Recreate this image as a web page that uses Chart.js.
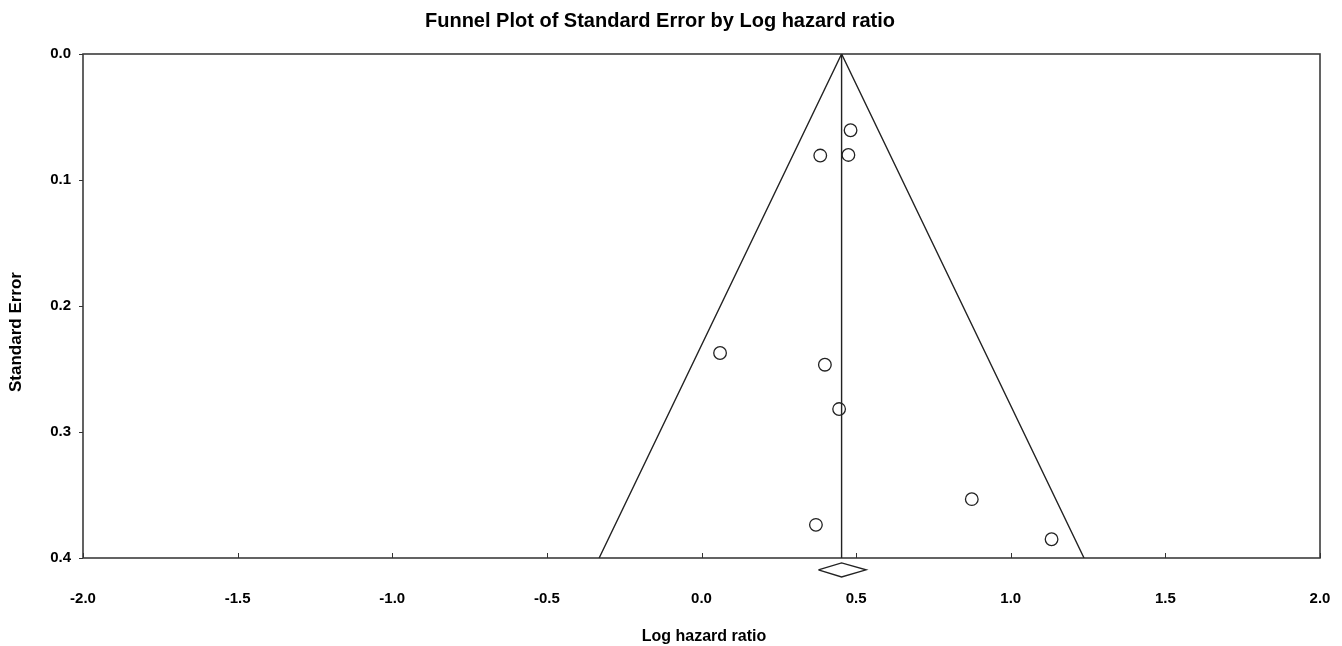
<!DOCTYPE html>
<html>
<head>
<meta charset="utf-8">
<script src="https://cdn.jsdelivr.net/npm/chart.js@4.4.1/dist/chart.umd.min.js"></script>
<style>
  html, body { margin: 0; padding: 0; background: #fff; overflow: hidden; }
  #wrap { width: 1342px; height: 646px; position: relative; }
  canvas { display: block; }
</style>
</head>
<body>
<div id="wrap"><canvas id="c"></canvas></div>
<script>
// ---- data ----
const chartTitle = "Funnel Plot of Standard Error by Log hazard ratio";
const xAxisTitle = "Log hazard ratio";
const yAxisTitle = "Standard Error";

const studyLogHR = [0.482, 0.384, 0.475, 0.060, 0.399, 0.445, 0.370, 0.874, 1.132];
const studySE    = [0.0605, 0.0806, 0.0801, 0.2373, 0.2466, 0.2818, 0.3737, 0.3533, 0.3851];

const funnelX = [-0.331, 0.453, 1.237];
const funnelY = [0.4, 0.0, 0.4];

const centerX = [0.453, 0.453];
const centerY = [0.0, 0.4];

const diamondX = [0.378, 0.453, 0.532, 0.453, 0.378];
const diamondY = [0.4094, 0.4039, 0.4094, 0.415, 0.4094];

const xTickValues = [-2.0, -1.5, -1.0, -0.5, 0.0, 0.5, 1.0, 1.5, 2.0];
const yTickValues = [0.0, 0.1, 0.2, 0.3, 0.4];

// ---- build ----
const zip = (xs, ys) => xs.map((x, i) => ({ x: x, y: ys[i] }));
const FONT = "'Liberation Sans', Arial, sans-serif";

const framePlugin = {
  id: 'frame',
  beforeDatasetsDraw(chart) {
    const { ctx, chartArea: a, scales } = chart;
    ctx.save();
    ctx.strokeStyle = '#3c3c3c';
    ctx.lineWidth = 1.6;
    ctx.strokeRect(a.left, a.top, a.right - a.left, a.bottom - a.top);
    ctx.lineWidth = 1;
    ctx.strokeStyle = '#333';
    ctx.beginPath();
    xTickValues.forEach(v => {
      const px = Math.round(scales.x.getPixelForValue(v)) + 0.5;
      ctx.moveTo(px, a.bottom);
      ctx.lineTo(px, a.bottom - 5);
    });
    yTickValues.forEach(v => {
      const py = Math.round(scales.y.getPixelForValue(v)) + 0.5;
      ctx.moveTo(a.left, py);
      ctx.lineTo(a.left - 4, py);
    });
    ctx.stroke();
    ctx.restore();
  },
  afterDraw(chart) {
    const { ctx } = chart;
    ctx.save();
    ctx.fillStyle = '#000';
    ctx.textAlign = 'center';
    ctx.textBaseline = 'middle';
    ctx.font = "bold 20px " + FONT;
    ctx.fillText(chartTitle, 660, 21);
    ctx.font = "bold 16px " + FONT;
    ctx.fillText(xAxisTitle, 704, 637);
    ctx.translate(16, 332);
    ctx.rotate(-Math.PI / 2);
    ctx.font = "bold 17px " + FONT;
    ctx.fillText(yAxisTitle, 0, 0);
    ctx.restore();
  }
};

new Chart(document.getElementById('c'), {
  type: 'scatter',
  data: {
    datasets: [
      {
        label: 'funnel', data: zip(funnelX, funnelY), showLine: true,
        borderColor: '#222', borderWidth: 1.4, pointRadius: 0, fill: false, tension: 0
      },
      {
        label: 'center', data: zip(centerX, centerY), showLine: true,
        borderColor: '#222', borderWidth: 1.4, pointRadius: 0, fill: false
      },
      {
        label: 'summary', data: zip(diamondX, diamondY), showLine: true,
        borderColor: '#222', borderWidth: 1.4, pointRadius: 0, fill: false, clip: false
      },
      {
        label: 'studies', data: zip(studyLogHR, studySE),
        pointRadius: 6.3, pointStyle: 'circle', borderColor: '#222', borderWidth: 1.3,
        backgroundColor: 'rgba(0,0,0,0)'
      }
    ]
  },
  options: {
    responsive: true,
    maintainAspectRatio: false,
    animation: false,
    devicePixelRatio: 1,
    layout: { padding: { top: 54, right: 22, bottom: 0, left: 0 } },
    plugins: { legend: { display: false }, tooltip: { enabled: false }, title: { display: false } },
    scales: {
      x: {
        type: 'linear', min: -2, max: 2,
        afterBuildTicks: s => { s.ticks = xTickValues.map(v => ({ value: v })); },
        afterFit: s => { s.height = 88; s.paddingLeft = 0; s.paddingRight = 0; },
        grid: { display: false, drawTicks: false },
        border: { display: false },
        ticks: {
          padding: 32, color: '#000', maxRotation: 0, autoSkip: false,
          font: { family: FONT, size: 15, weight: 'bold' },
          callback: v => Number(v).toFixed(1)
        }
      },
      y: {
        type: 'linear', min: 0, max: 0.4, reverse: true,
        afterBuildTicks: s => { s.ticks = yTickValues.map(v => ({ value: v })); },
        afterFit: s => { s.width = 83; },
        grid: { display: false, drawTicks: false },
        border: { display: false },
        ticks: {
          padding: 12, color: '#000', autoSkip: false,
          font: { family: FONT, size: 15, weight: 'bold' },
          callback: v => Number(v).toFixed(1)
        }
      }
    }
  },
  plugins: [framePlugin]
});
</script>
</body>
</html>
